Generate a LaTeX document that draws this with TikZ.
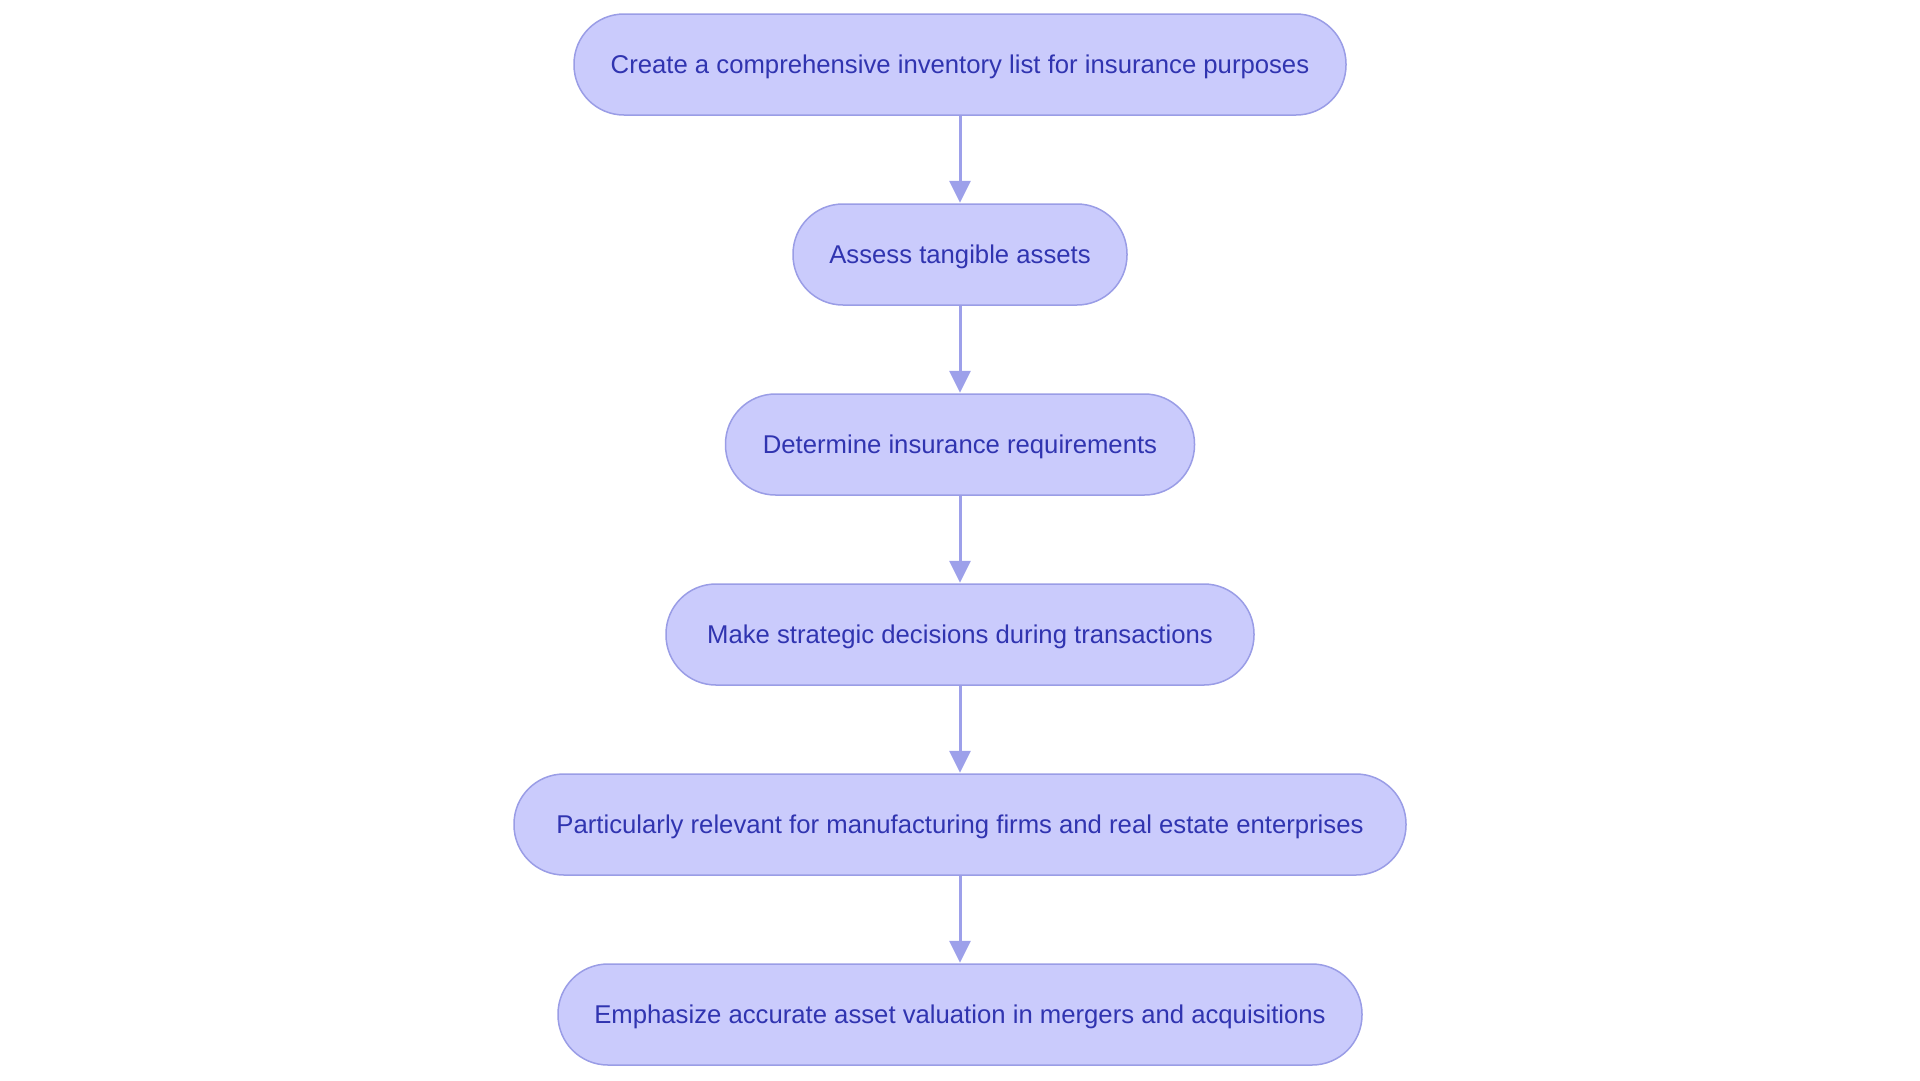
\documentclass[tikz,border=0pt]{standalone}
\usepackage{fontspec}
\setmainfont{Liberation Sans}
\usetikzlibrary{arrows.meta}
\definecolor{boxfill}{HTML}{CACBFC}
\definecolor{boxline}{HTML}{9A9DE6}
\definecolor{boxtext}{HTML}{3034B0}
\definecolor{arrowc}{HTML}{9DA0EA}
\begin{document}
\begin{tikzpicture}[x=1pt,y=-1pt,
  stepbox/.style={draw=boxline, line width=1.5pt, fill=boxfill, rounded corners=50pt,
    minimum height=101pt, inner sep=0pt, text=boxtext, font=\fontsize{25.7}{30}\selectfont,
    text depth=1pt},
  flow/.style={draw=arrowc, line width=3pt, -{Triangle[length=22pt,width=21pt]}, shorten >=0.5pt}]
\useasboundingbox (0,0) rectangle (1920,1080);
\fill[white] (0,0) rectangle (1920,1080);
\node[stepbox, minimum width=772pt] (n1) at (960,64.5) {Create a comprehensive inventory list for insurance purposes};
\node[stepbox, minimum width=334pt] (n2) at (960,254.5) {Assess tangible assets};
\node[stepbox, minimum width=469pt] (n3) at (960,444.5) {Determine insurance requirements};
\node[stepbox, minimum width=588pt] (n4) at (960,634.5) {Make strategic decisions during transactions};
\node[stepbox, minimum width=892pt] (n5) at (960,824.5) {Particularly relevant for manufacturing firms and real estate enterprises};
\node[stepbox, minimum width=804pt] (n6) at (960,1014.5) {Emphasize accurate asset valuation in mergers and acquisitions};
\draw[flow] (n1) -- (n2);
\draw[flow] (n2) -- (n3);
\draw[flow] (n3) -- (n4);
\draw[flow] (n4) -- (n5);
\draw[flow] (n5) -- (n6);
\end{tikzpicture}
\end{document}
